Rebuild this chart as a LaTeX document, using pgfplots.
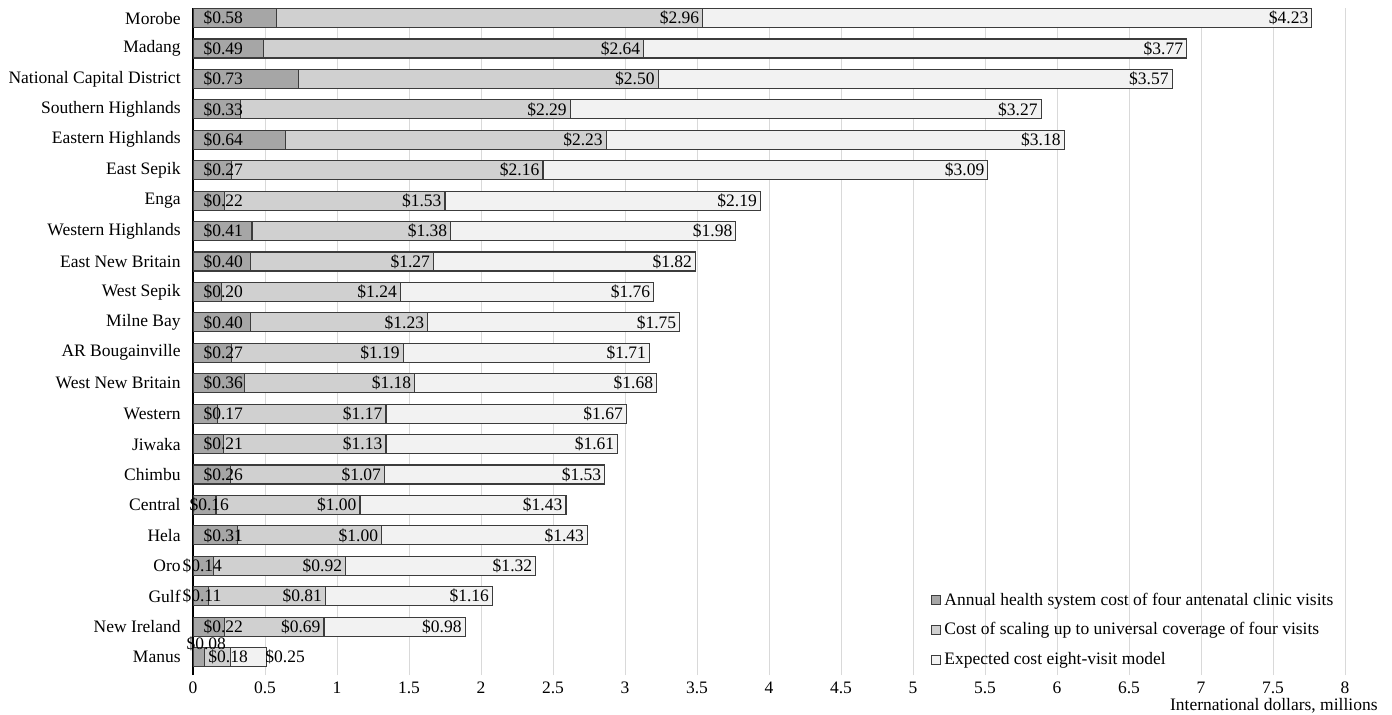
\documentclass[border=0pt]{standalone}
\usepackage{fontspec}
\setmainfont{Liberation Serif}
\usepackage{pgfplots}
\pgfplotsset{compat=1.18}
\usepackage{pgfplotstable}

\definecolor{segA}{HTML}{A6A6A6}
\definecolor{segB}{HTML}{D0D0D0}
\definecolor{segC}{HTML}{F2F2F2}
\definecolor{edge}{HTML}{3C3C3C}
\definecolor{gridc}{HTML}{D9D9D9}

% idx: row position (0 = bottom); sa/ya/sb/sc: label nudges in pt
\pgfplotstableread{
idx a    b    c    sa    ya sb   sc
21  0.58 2.96 4.23 0     0  0    0
20  0.49 2.64 3.77 0     0  0    0
19  0.73 2.50 3.57 0     0  0    0
18  0.33 2.29 3.27 0     0  0    0
17  0.64 2.23 3.18 0     0  0    0
16  0.27 2.16 3.09 0     0  0    0
15  0.22 1.53 2.19 0     0  0    0
14  0.41 1.38 1.98 0     0  0    0
13  0.40 1.27 1.82 0     0  0    0
12  0.20 1.24 1.76 0     0  0    0
11  0.40 1.23 1.75 0     0  0    0
10  0.27 1.19 1.71 0     0  0    0
9   0.36 1.18 1.68 0     0  0    0
8   0.17 1.17 1.67 0     0  0    0
7   0.21 1.13 1.61 0     0  0    0
6   0.26 1.07 1.53 0     0  0    0
5   0.16 1.00 1.43 -7    0  0    0
4   0.31 1.00 1.43 0     0  0    0
3   0.14 0.92 1.32 -10.5 0  0    0
2   0.11 0.81 1.16 -10.5 0  0    0
1   0.22 0.69 0.98 0     0  0    0
0   0.08 0.18 0.25 -8.5  6.5 10.5 21
}\costs

\newcommand{\lblfont}{\fontsize{8.75}{10}\selectfont}

\begin{document}
\begin{tikzpicture}
\begin{axis}[
  name=ax,
  scale only axis,
  width=576pt, height=333.5pt,
  xbar stacked, bar width=9.5pt,
  xmin=0, xmax=8, ymin=-0.59, ymax=21.33,
  xtick={0,0.5,...,8},
  xticklabel style={/pgf/number format/assume math mode=true, font=\lblfont},
  ytick={0,...,21},
  yticklabels={Manus, New Ireland, Gulf, Oro, Hela, Central, Chimbu, Jiwaka, Western, West New Britain, AR Bougainville, Milne Bay, West Sepik, East New Britain, Western Highlands, Enga, East Sepik, Eastern Highlands, Southern Highlands, National Capital District, Madang, Morobe},
  yticklabel style={font=\lblfont, inner sep=0pt, xshift=-6pt},
  major tick style={draw=none},
  xmajorgrids, grid style={gridc, line width=0.5pt},
  axis x line*=bottom, axis y line*=left,
  x axis line style={draw=none},
  y axis line style={black, line width=0.75pt},
  xlabel={International dollars, millions},
  xlabel style={font=\lblfont, at={(rel axis cs:1,0)}, anchor=north east, inner sep=0pt, xshift=16.5pt, yshift=-11.5pt},
  legend style={draw=none, fill=none, font=\lblfont, at={(rel axis cs:0.64,0.13)}, anchor=north west, row sep=3.2pt, legend cell align=left, inner sep=0pt},
  legend image code/.code={\draw[#1, line width=0.4pt] (0pt,-2.25pt) rectangle (4.5pt,2.25pt);},
  every node near coord/.append style={font=\lblfont, black, inner sep=0pt},
  point meta=explicit,
]
\addplot[fill=segA, draw=edge, line width=0.6pt,
  visualization depends on={\thisrow{a} \as \va},
  visualization depends on={\thisrow{sa} \as \sa},
  visualization depends on={\thisrow{ya} \as \ya},
  nodes near coords={\$\pgfmathprintnumber[fixed,fixed zerofill,precision=2,assume math mode=true]{\pgfplotspointmeta}},
  every node near coord/.append style={anchor=west, xshift=-\va*36pt+5pt+\sa*1pt, yshift=\ya*1pt}]
  table[x=a, y=idx, meta=a] {\costs};
\addlegendentry{Annual health system cost of four antenatal clinic visits}
\addplot[fill=segB, draw=edge, line width=0.6pt,
  visualization depends on={\thisrow{b} \as \vb},
  visualization depends on={\thisrow{sb} \as \sb},
  nodes near coords={\$\pgfmathprintnumber[fixed,fixed zerofill,precision=2,assume math mode=true]{\pgfplotspointmeta}},
  every node near coord/.append style={anchor=east, xshift=\vb*36pt-1.5pt+\sb*1pt}]
  table[x=b, y=idx, meta=b] {\costs};
\addlegendentry{Cost of scaling up to universal coverage of four visits}
\addplot[fill=segC, draw=edge, line width=0.6pt,
  visualization depends on={\thisrow{c} \as \vc},
  visualization depends on={\thisrow{sc} \as \sc},
  nodes near coords={\$\pgfmathprintnumber[fixed,fixed zerofill,precision=2,assume math mode=true]{\pgfplotspointmeta}},
  every node near coord/.append style={anchor=east, xshift=\vc*36pt-1.5pt+\sc*1pt}]
  table[x=c, y=idx, meta=c] {\costs};
\addlegendentry{Expected cost eight-visit model}
\end{axis}
\pgfresetboundingbox
\path[use as bounding box] ([shift={(-96.5pt,-19.5pt)}]ax.south west) rectangle ([shift={(23.5pt,4pt)}]ax.north east);
\end{tikzpicture}
\end{document}
